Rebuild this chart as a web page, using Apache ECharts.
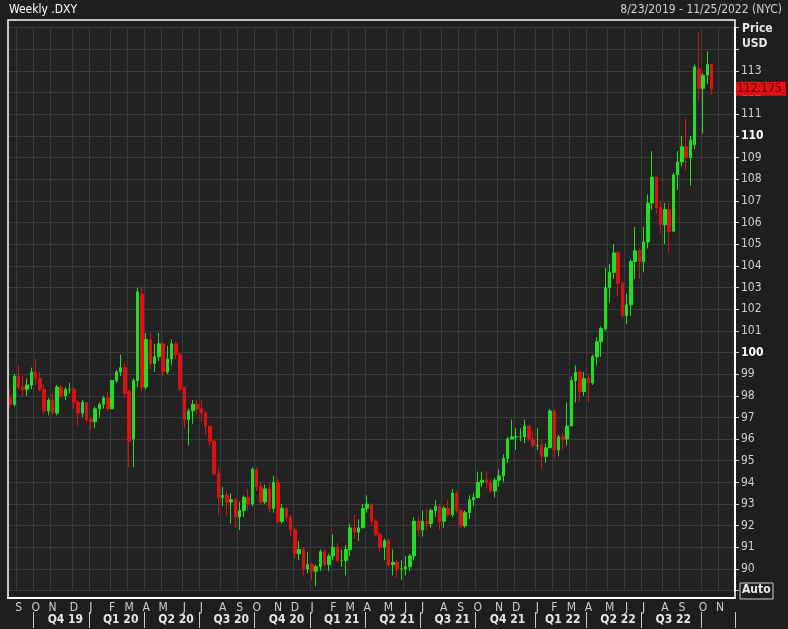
<!DOCTYPE html>
<html><head><meta charset="utf-8">
<script src="https://cdn.jsdelivr.net/npm/echarts@6/dist/echarts.min.js"></script>
<style>html,body{margin:0;padding:0;background:#1e1e1e}#c{width:788px;height:629px}</style>
</head><body><div id="c"></div>
<script>
// Weekly DXY candles: [open, close, low, high]
const startDate = '2019-08-23';
const weekCount = 171; // through 2022-11-25
const monthLetters = ['J','F','M','A','M','J','J','A','S','O','N','D'];
const quarterLabels = ['Q4 19','Q1 20','Q2 20','Q3 20','Q4 20','Q1 21','Q2 21','Q3 21','Q4 21','Q1 22','Q2 22','Q3 22'];
const lastPrice = 112.175;
const yTicksBold = [100, 110];
const candles2019 = [
[97.9,97.6,97.4,98.3],[97.6,98.9,97.5,99.0],[98.9,98.4,98.3,99.4],[98.4,98.3,98.0,98.9],[98.3,98.5,98.0,98.8],
[98.5,99.1,98.3,99.3],[99.1,98.8,98.5,99.7],[98.8,98.3,98.2,99.1],[98.3,97.3,97.2,98.5],[97.3,97.8,97.1,97.9],
[97.8,97.2,97.1,98.1],[97.2,98.4,97.1,98.5],[98.4,98.0,97.9,98.5],[98.0,98.3,97.8,98.4],[98.3,98.3,98.1,98.6],
[98.3,97.7,97.4,98.4],[97.7,97.2,96.6,97.8],[97.2,97.7,97.0,97.8],[97.7,96.9,96.8,97.7]];
const candles2020 = [
[96.9,96.8,96.4,97.0],[96.8,97.4,96.5,97.5],[97.4,97.6,97.0,97.7],[97.6,97.9,97.4,98.0],[97.9,97.4,97.3,98.2],
[97.4,98.7,97.4,98.7],[98.7,99.1,98.6,99.2],[99.1,99.3,98.9,99.9],[99.3,98.1,97.9,99.5],[98.2,95.9,94.7,98.3],
[96.0,98.7,94.7,98.8],[98.7,102.8,98.4,103.0],[102.7,98.4,98.2,103.0],[98.4,100.6,98.3,100.9],[100.6,99.5,99.2,100.9],
[99.5,99.8,99.1,100.4],[99.8,100.4,99.6,100.9],[100.4,99.1,98.9,100.5],[99.1,99.7,99.0,100.3],[99.7,100.4,99.4,100.6],
[100.4,99.9,99.7,100.5],[99.9,98.3,98.2,100.0],[98.4,96.9,96.5,98.4],[96.9,97.3,95.7,97.4],[97.3,97.6,96.7,97.8],
[97.6,97.4,97.1,97.8],[97.4,97.2,96.8,97.8],[97.2,96.6,96.2,97.3],[96.6,95.9,95.7,96.6],[95.9,94.4,94.3,96.0],
[94.4,93.3,92.5,94.7],[93.3,93.4,92.9,93.8],[93.4,93.1,92.5,93.6],[93.1,93.2,92.1,93.5],[93.2,92.4,91.9,93.3],
[92.4,92.7,91.8,93.1],[92.7,93.3,92.4,93.4],[93.3,93.0,92.7,93.7],[93.0,94.6,92.9,94.7],[94.6,93.8,93.6,94.7],
[93.8,93.1,93.0,94.0],[93.1,93.7,93.0,93.9],[93.7,92.8,92.6,94.0],[92.8,94.0,92.6,94.3],[94.0,92.2,92.1,94.2],
[92.2,92.8,92.1,93.0],[92.8,92.4,92.2,92.9],[92.4,91.8,91.5,92.5],[91.8,90.7,90.5,91.9],[90.7,90.9,90.4,91.3],
[90.9,90.0,89.7,91.0],[90.0,90.2,89.8,90.8]];
const candles2021 = [
[90.2,89.9,89.5,90.3],[89.9,90.1,89.2,90.2],[90.1,90.8,89.9,90.9],[90.8,90.2,90.1,90.9],[90.2,90.6,89.9,90.7],
[90.6,91.0,90.4,91.6],[91.0,90.4,90.3,91.2],[90.4,90.4,90.1,90.9],[90.4,90.9,89.7,91.1],[90.9,91.9,90.6,92.1],
[91.9,91.7,91.4,92.5],[91.7,91.9,91.3,92.3],[91.9,92.8,91.9,93.0],[92.8,93.0,92.6,93.4],[93.0,92.2,92.0,93.0],
[92.2,91.6,91.5,92.3],[91.6,91.0,90.8,91.7],[91.0,91.3,90.4,91.4],[91.3,90.2,90.1,91.4],[90.2,90.3,89.7,90.9],
[90.3,90.0,89.6,90.4],[90.0,90.0,89.5,90.4],[90.0,90.1,89.7,90.6],[90.1,90.6,89.9,90.7],[90.6,92.2,90.4,92.4],
[92.2,91.8,91.5,92.4],[91.8,92.2,91.5,92.7],[92.2,92.1,91.8,92.8],[92.1,92.7,91.9,92.8],[92.7,92.9,92.4,93.2],
[92.9,92.2,91.8,93.0],[92.2,92.8,91.9,92.9],[92.8,92.5,92.4,93.2],[92.5,93.5,92.4,93.7],[93.5,92.7,92.6,93.6],
[92.7,92.0,91.9,92.8],[92.0,92.6,91.9,92.7],[92.6,93.2,92.3,93.4],[93.2,93.3,92.9,93.5],[93.3,94.0,93.3,94.5],
[94.0,94.1,93.8,94.5],[94.1,94.0,93.7,94.5],[94.0,93.6,93.5,94.1],[93.6,94.1,93.3,94.2],[94.1,94.3,93.8,94.6],
[94.3,95.1,94.0,95.3],[95.1,96.0,94.9,96.1],[96.0,96.1,96.0,96.9],[96.1,96.1,95.5,96.5],[96.1,96.1,95.9,96.5],
[96.1,96.6,95.8,96.9],[96.6,96.0,95.9,96.5],[96.0,95.7,95.6,96.4]];
const candles2022 = [
[95.7,95.7,95.5,96.5],[95.7,95.2,94.6,96.0],[95.2,95.6,94.9,95.8],[95.6,97.3,95.6,97.4],[97.3,95.5,95.1,97.4],
[95.5,96.1,95.2,96.2],[96.1,96.0,95.5,96.3],[96.0,96.6,95.7,97.7],[96.6,98.7,96.6,98.9],[98.7,99.1,97.7,99.4],
[99.1,98.2,97.7,99.2],[98.2,98.8,98.0,99.1],[98.8,98.6,97.7,99.0],[98.6,99.8,98.5,99.9],[99.8,100.5,99.4,100.7],
[100.5,101.1,99.8,101.2],[101.1,103.0,101.0,103.9],[103.0,103.7,102.3,104.1],[103.7,104.6,103.4,105.0],[104.6,103.2,102.6,104.7],
[103.2,101.7,101.6,103.3],[101.7,102.2,101.3,102.7],[102.2,104.2,101.7,104.3],[104.2,104.7,103.4,105.8],[104.7,104.2,103.4,104.8],
[104.2,105.1,103.7,105.8],[105.1,106.9,104.8,107.3],[106.9,108.1,106.6,109.3],[108.1,106.7,106.4,108.0],[106.7,105.9,105.5,107.0],
[105.9,106.6,105.0,106.9],[106.6,105.6,104.6,106.9],[105.6,108.2,105.6,108.3],[108.2,108.8,107.5,109.3],[108.8,109.5,108.6,110.0],
[109.5,109.0,108.4,110.8],[109.0,109.8,107.7,110.0],[109.6,113.2,109.4,113.3],[113.1,112.2,111.6,114.8],[112.2,112.8,110.1,112.9],
[112.8,113.3,112.4,113.9],[113.3,112.175,111.9,113.3]];

const candles = candles2019.concat(candles2020, candles2021, candles2022);
const dates = [];
{ const d0 = new Date(startDate + 'T12:00:00Z');
  for (let i = 0; i < weekCount; i++) { const d = new Date(d0.getTime() + i*7*86400000); dates.push(d.toISOString().slice(0,10)); } }
const month = i => +dates[i].slice(5,7);
const isMonthStart = i => i > 0 && month(i) !== month(i-1);
const isQuarterStart = i => isMonthStart(i) && (month(i) % 3 === 1);
const qStarts = []; for (let i = 0; i < weekCount; i++) if (isQuarterStart(i)) qStarts.push(i);
const qMid = {}; for (let k = 0; k < qStarts.length - 1 && k < quarterLabels.length; k++) qMid[Math.round((qStarts[k] + qStarts[k+1]) / 2)] = quarterLabels[k];

const FONT = 'DejaVu Sans Condensed, Liberation Sans Narrow, Arial, sans-serif';
const chart = echarts.init(document.getElementById('c'));
chart.setOption({
  backgroundColor: '#1e1e1e',
  animation: false,
  grid: { left: 8, right: 53, top: 27.7, bottom: 38.35, backgroundColor: '#222222', show: true, borderWidth: 0 },
  xAxis: [{
    type: 'category', data: dates, boundaryGap: true, offset: 7.35,
    axisLine: { lineStyle: { color: '#ffffff', width: 2 } },
    axisTick: { interval: (i) => isMonthStart(i), length: 4, lineStyle: { color: '#aaaaaa' } },
    axisLabel: { interval: (i) => isMonthStart(i), formatter: (v) => monthLetters[+v.slice(5,7)-1], color: '#cfcfcf', fontFamily: FONT, fontSize: 12, margin: 4 },
    splitLine: { show: true, interval: (i) => isMonthStart(i), lineStyle: { color: '#3a3a3a', width: 1 } }
  }, {
    type: 'category', data: dates, boundaryGap: true, position: 'bottom', offset: 21.35,
    axisLine: { show: false },
    axisTick: { show: true, interval: (i) => isQuarterStart(i), length: 16, lineStyle: { color: '#cccccc' } },
    axisLabel: { interval: (i) => qMid[i] !== undefined, formatter: (v, i) => qMid[i] || '', color: '#e6e6e6', fontWeight: 'bold', fontFamily: FONT, fontSize: 12, margin: 2 },
    splitLine: { show: false }
  }],
  yAxis: {
    type: 'value', position: 'right', min: 89, max: 115, interval: 1,
    axisLine: { show: true, lineStyle: { color: '#ffffff', width: 2 } },
    axisTick: { show: true, length: 4, lineStyle: { color: '#cccccc' } },
    axisLabel: { color: '#cfcfcf', fontFamily: FONT, fontSize: 12, margin: 6,
      formatter: v => (v < 90 || v > 113) ? '' : (yTicksBold.includes(v) ? '{b|' + v + '}' : String(v)),
      rich: { b: { fontWeight: 'bold', color: '#ffffff', fontFamily: FONT, fontSize: 12 } } },
    splitLine: { lineStyle: { color: '#3a3a3a', width: 1 } }
  },
  series: [{
    type: 'candlestick', data: candles, barWidth: 3,
    itemStyle: { color: '#1fe01f', color0: '#e01010', borderColor: '#1fe01f', borderColor0: '#e01010', borderWidth: 1 }
  }],
  graphic: [
    { type: 'rect', shape: { x: 8, y: 20, width: 727, height: 578 }, style: { fill: 'none', stroke: '#ffffff', lineWidth: 1.5 }, z: 100 },
    { type: 'rect', shape: { x: 0, y: 0, width: 788, height: 19 }, style: { fill: '#1e1e1e' }, z: 90 },
    { type: 'text', left: 9, top: 4, style: { text: 'Weekly .DXY', fill: '#ffffff', font: '12px ' + FONT }, z: 101 },
    { type: 'text', right: 6, top: 4, style: { text: '8/23/2019 - 11/25/2022 (NYC)', fill: '#d0d0d0', font: '12px ' + FONT }, z: 101 },
    { type: 'text', left: 742, top: 21, style: { text: 'Price\nUSD', fill: '#e8e8e8', font: 'bold 12px ' + FONT, lineHeight: 15 }, z: 101 },
    { type: 'text', left: 742, top: 584, style: { text: 'Auto', fill: '#e8e8e8', font: 'bold 12px ' + FONT }, z: 101 },
    { type: 'rect', shape: { x: 740, y: 583, width: 33, height: 16 }, style: { fill: 'none', stroke: '#d0d0d0', lineWidth: 1 }, z: 101 }
  ]
});
// last-price tag placed through the y axis scale
const py = chart.convertToPixel({ yAxisIndex: 0 }, lastPrice);
chart.setOption({ graphic: [
  { id: 'tagbg', type: 'rect', shape: { x: 736, y: py - 7, width: 50, height: 14 }, style: { fill: '#e01010' }, z: 110 },
  { id: 'tagtx', type: 'text', x: 737, y: py - 6, style: { text: String(lastPrice), fill: '#5a0000', font: '12px ' + FONT }, z: 111 }
]});
</script></body></html>
